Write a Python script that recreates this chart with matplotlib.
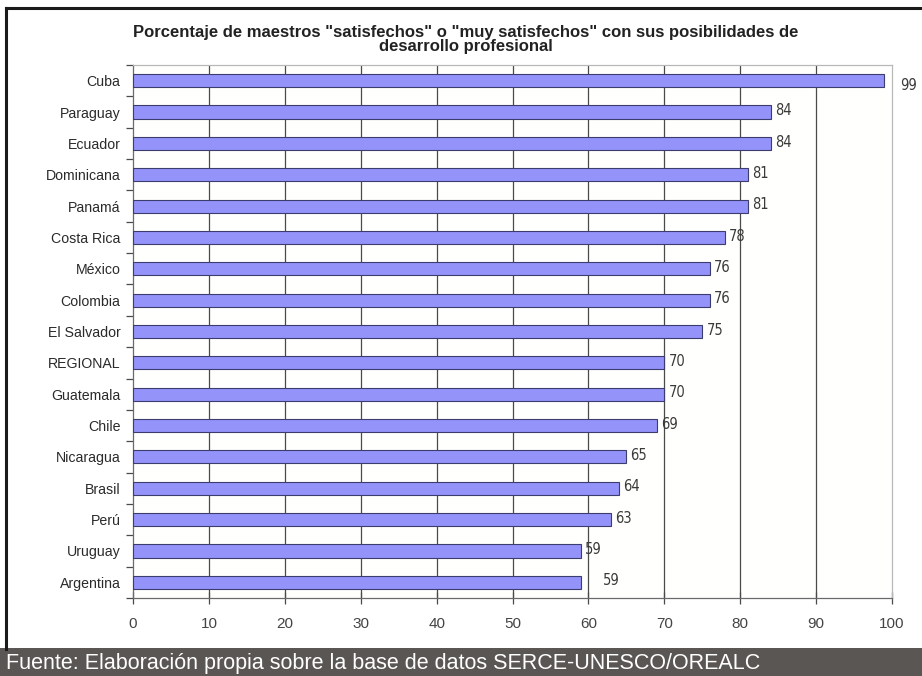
import numpy as np
import matplotlib.pyplot as plt
from matplotlib.patches import Rectangle
from matplotlib.lines import Line2D

plt.rcParams['font.family'] = ['Liberation Sans', 'DejaVu Sans']

paises = ["Cuba", "Paraguay", "Ecuador", "Dominicana", "Panamá", "Costa Rica",
          "México", "Colombia", "El Salvador", "REGIONAL", "Guatemala", "Chile",
          "Nicaragua", "Brasil", "Perú", "Uruguay", "Argentina"]
valores = [99, 84, 84, 81, 81, 78, 76, 76, 75, 70, 70, 69, 65, 64, 63, 59, 59]
xticks = [0, 10, 20, 30, 40, 50, 60, 70, 80, 90, 100]

titulo = 'Porcentaje de maestros "satisfechos" o "muy satisfechos" con sus posibilidades de\ndesarrollo profesional'
fuente = "Fuente: Elaboración propia sobre la base de datos SERCE-UNESCO/OREALC"

fig = plt.figure(figsize=(9.22, 6.76), dpi=100)
ax = fig.add_axes([0.1443, 0.1154, 0.8232, 0.7884])
ax.set_facecolor("#fffffd")

y = np.arange(len(paises))
ax.barh(y, valores, height=0.42, color="#9393fa", edgecolor="#3c3c6e", linewidth=0.8, zorder=3)

ax.set_xlim(0, 100)
ax.set_ylim(len(paises) - 0.5, -0.5)

# vertical grid at every 10
for v in xticks[1:-1]:
    ax.axvline(v, color="#4a4a4a", linewidth=0.9, zorder=1)

ax.set_xticks(xticks)
ax.tick_params(axis="x", direction="inout", length=9, width=0.9, color="#4a4a4a",
               labelsize=11, labelcolor="#444444", pad=9)
ax.set_yticks(y)
ax.set_yticklabels(paises)
ax.tick_params(axis="y", length=0, labelsize=10.2, labelcolor="#2a2a2a", pad=9)
ax.set_yticks(np.arange(len(paises) + 1) - 0.5, minor=True)
ax.tick_params(axis="y", which="minor", direction="out", length=5, width=0.9, color="#4a4a4a")

for s in ["top", "right"]:
    ax.spines[s].set_color("#b8b8b8")
    ax.spines[s].set_linewidth(0.9)
for s in ["left", "bottom"]:
    ax.spines[s].set_color("#6a6a6a")
    ax.spines[s].set_linewidth(0.9)

# value labels at the bar ends, narrow face
for i, v in enumerate(valores):
    pad = 11.5 if i == 0 else (16 if i == len(valores) - 1 else 3)
    dy = -3.5 if i == 0 else 1
    ax.annotate(str(v), (v, i), xytext=(pad, dy), textcoords="offset points",
                va="center", ha="left", fontsize=10.5, color="#3a3a3a",
                family="DejaVu Sans", fontstretch="condensed")

fig.text(0.505, 0.92, titulo, ha="center", va="bottom", fontsize=12,
         fontweight="bold", color="#222222", linespacing=0.95)

# frame lines and source banner
fig.add_artist(Line2D([0.0065, 1.0], [0.988, 0.988], transform=fig.transFigure,
                      color="#1a1a1a", linewidth=2.2))
fig.add_artist(Line2D([0.0065, 0.0065], [0.04, 0.988], transform=fig.transFigure,
                      color="#1a1a1a", linewidth=2.2))
fig.add_artist(Rectangle((0, 0), 1, 0.0414, transform=fig.transFigure,
                         facecolor="#5a5654", edgecolor="none"))
fig.text(0.006, 0.0185, fuente, ha="left", va="center", fontsize=15.5, color="white")

fig.savefig("out.png", dpi=100)
